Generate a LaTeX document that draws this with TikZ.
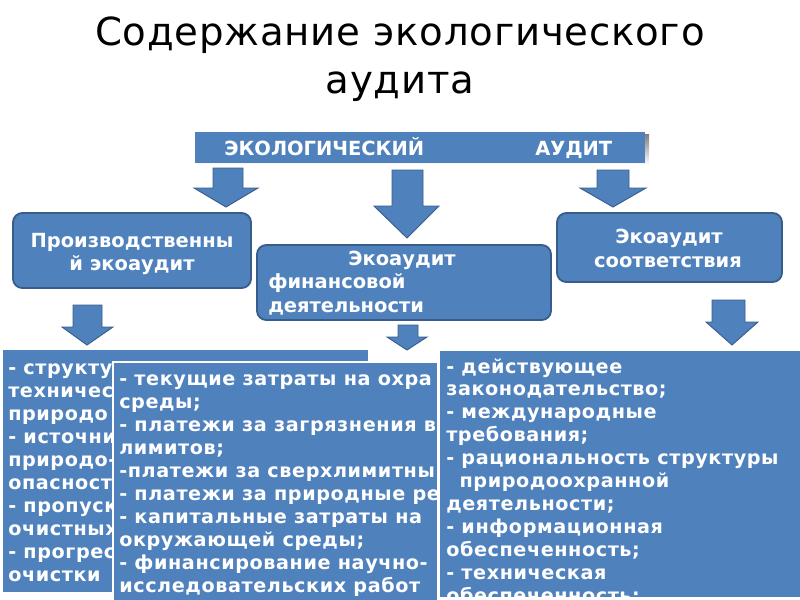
\documentclass[tikz,border=0pt]{standalone}
\usepackage{fontspec}
\setmainfont{DejaVu Sans}
\newfontfamily\titlefont{DejaVu Sans}[LetterSpace=2]
\newfontfamily\lowfont{DejaVu Sans}[LetterSpace=3]
\definecolor{boxblue}{HTML}{4F81BD}
\definecolor{boxedge}{HTML}{385D8A}
\definecolor{shade}{HTML}{A6A6A6}
\begin{document}
\begin{tikzpicture}[x=0.75pt,y=-0.75pt,
  rbox/.style={fill=boxblue, draw=boxedge, line width=1.4pt, rounded corners=7pt},
  barrow/.style={fill=boxblue, draw=boxedge, line width=0.7pt, line join=miter},
  title/.style={font=\titlefont\fontsize{29}{35}\selectfont, text=black, inner sep=0, anchor=base},
  btext/.style={text=white, font=\bfseries\fontsize{14.6}{18}\selectfont, inner sep=0},
  ltext/.style={text=white, font=\lowfont\bfseries\fontsize{14.4}{17}\selectfont, inner sep=0, anchor=base west}
]
\useasboundingbox (0,0) rectangle (800,600);

% title
\node[title] (t1) at (400,45) {Содержание экологического};
\node[title] (t2) at (400,93) {аудита};

% header bar
\fill[shade] (198,134) rectangle (649,165);
\node[fill=boxblue, minimum width=450*0.75pt, minimum height=31*0.75pt, inner sep=0, anchor=north west] (bar) at (195,132) {};
\node[btext, anchor=base west] (bar1) at (224,155) {ЭКОЛОГИЧЕСКИЙ};
\node[btext, anchor=base west] (bar2) at (535,155) {АУДИТ};

% arrows from header
\draw[barrow] (213,168) -- (243,168) -- (243,188) -- (258,188) -- (226,207) -- (194,188) -- (213,188) -- cycle;
\draw[barrow] (392,170) -- (423,170) -- (423,206) -- (439,206) -- (407,238) -- (374,206) -- (392,206) -- cycle;
\draw[barrow] (597,170) -- (629,170) -- (629,188) -- (646,188) -- (613,207) -- (580,188) -- (597,188) -- cycle;

% second level boxes
\draw[rbox] (13,213) rectangle (251,288);
\node[btext, anchor=base] (p1) at (132,247) {Производственны};
\node[btext, anchor=base] (p2) at (132,270) {й экоаудит};

\draw[rbox] (257,245) rectangle (551,320);
\node[btext, anchor=base] (f1) at (402,265) {Экоаудит};
\node[btext, anchor=base west] (f2) at (268,288) {финансовой};
\node[btext, anchor=base west] (f3) at (268,312) {деятельности};

\draw[rbox] (557,213) rectangle (782,282);
\node[btext, anchor=base] (s1) at (669,243) {Экоаудит};
\node[btext, anchor=base] (s2) at (668,267) {соответствия};

% arrows to lower boxes
\draw[barrow] (73,305) -- (102,305) -- (102,327) -- (113,327) -- (87,345) -- (62,327) -- (73,327) -- cycle;
\draw[barrow] (398,325) -- (418,325) -- (418,337) -- (427,337) -- (407,350) -- (387,337) -- (398,337) -- cycle;
\draw[barrow] (712,300) -- (745,300) -- (745,322) -- (758,322) -- (732,345) -- (706,322) -- (712,322) -- cycle;

% lower left box
\fill[boxblue] (3,350) rectangle (368,592);
\begin{scope}
\clip (3,350) rectangle (113,592);
\foreach \i/\t in {0/{- структу}, 1/{техничес}, 2/{природо}, 3/{- источни}, 4/{природо-}, 5/{опасност}, 6/{- пропуск}, 7/{очистных}, 8/{- прогрес}, 9/{очистки}}
  \node[ltext] (L\i) at (8,374+23.1*\i) {\t};
\end{scope}

% lower middle box
\draw[fill=boxblue, draw=white, line width=0.8pt] (113,362) rectangle (438,602);
\begin{scope}
\clip (113,362) rectangle (438,600);
\foreach \i/\t in {0/{- текущие затраты на охра}, 1/{среды;}, 2/{- платежи за загрязнения в}, 3/{лимитов;}, 4/{-платежи за сверхлимитны}, 5/{- платежи за природные ре}, 6/{- капитальные затраты на}, 7/{окружающей среды;}, 8/{- финансирование научно-}, 9/{исследовательских работ}}
  \node[ltext] (M\i) at (119,385+23.1*\i) {\t};
\end{scope}

% lower right box
\draw[fill=boxblue, draw=white, line width=0.8pt] (439,350) rectangle (802,598);
\begin{scope}
\clip (440,350) rectangle (800,597);
\foreach \i/\t in {0/{- действующее}, 1/{законодательство;}, 2/{- международные}, 3/{требования;}, 4/{- рациональность структуры}, 5/{\hspace{10pt}природоохранной}, 6/{деятельности;}, 7/{- информационная}, 8/{обеспеченность;}, 9/{- техническая}, 10/{обеспеченность;}}
  \node[ltext] (R\i) at (446,373+22.9*\i) {\t};
\end{scope}
\end{tikzpicture}
\end{document}
